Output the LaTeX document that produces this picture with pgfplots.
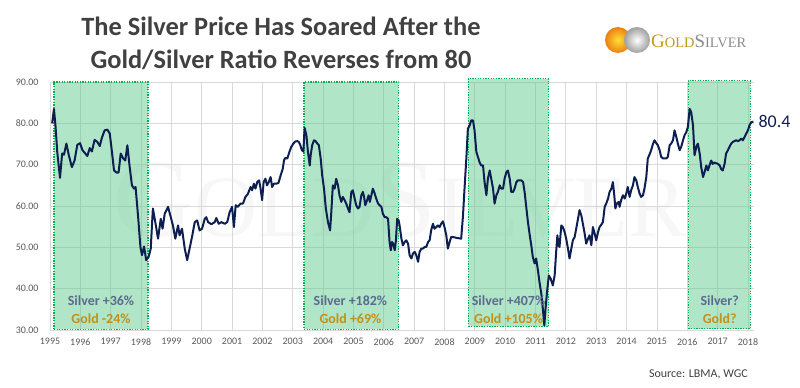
\documentclass[border=0pt]{standalone}
\usepackage{pgfplots}
\pgfplotsset{compat=1.18}
\usepackage{fontspec}
\setmainfont{Carlito}
\newfontfamily\logofont{Liberation Serif}
\definecolor{navy}{HTML}{0D1E50}
\definecolor{gridc}{HTML}{D9D9D9}
\definecolor{boxfill}{HTML}{64CB8F}
\definecolor{boxedge}{HTML}{00B050}
\definecolor{silverc}{HTML}{5B6B8F}
\definecolor{goldc}{HTML}{C39019}
\definecolor{titlec}{HTML}{404040}
\definecolor{tickc}{HTML}{595959}
\definecolor{logogold}{HTML}{C9961C}
\definecolor{logogray}{HTML}{8C8C8C}
\begin{document}
\begin{tikzpicture}[x=1bp,y=1bp]
\useasboundingbox (0,0) rectangle (800,387);
% title
\node[anchor=base, font=\bfseries\fontsize{26.5}{28}\selectfont, text=titlec, inner sep=0] at (281,352) {The Silver Price Has Soared After the};
\node[anchor=base, font=\bfseries\fontsize{26.5}{28}\selectfont, text=titlec, inner sep=0] at (281,319) {Gold/Silver Ratio Reverses from 80};
% logo
\shade[inner color=yellow!70!orange!80, outer color=orange!70!brown] (618,347) circle (13);
\shade[inner color=white, outer color=gray!75] (637,347) circle (13);
\node[anchor=base west, inner sep=0, font=\logofont] at (651,340) {\textcolor{logogold}{\fontsize{19}{19}\selectfont G\fontsize{14.5}{14.5}\selectfont OLD}\textcolor{logogray}{\fontsize{19}{19}\selectfont S\fontsize{14.5}{14.5}\selectfont ILVER}};
% watermark
\node[inner sep=0, font=\logofont, text=black!6, opacity=0.5] at (400,187) {\fontsize{112}{112}\selectfont G\fontsize{88}{88}\selectfont OLD\fontsize{112}{112}\selectfont S\fontsize{88}{88}\selectfont ILVER};
% source
\node[anchor=base east, inner sep=0, font=\fontsize{12}{14}\selectfont, text=titlec] at (748,10) {Source: LBMA, WGC};
\begin{axis}[
  at={(50bp,57bp)}, anchor=south west,
  scale only axis, width=704bp, height=248bp,
  xmin=1995, xmax=2018.2, ymin=30, ymax=90,
  axis line style={draw=none},
  major tick length=0pt,
  grid=major, grid style={color=gridc, line width=0.8bp},
  xtick={1995,1996,...,2018},
  xticklabels={1995,1996,1997,1998,1999,2000,2001,2002,2003,2004,2005,2006,2007,2008,2009,2010,2011,2012,2013,2014,2015,2016,2017,2018},
  ytick={30,40,50,60,70,80,90},
  yticklabels={30.00,40.00,50.00,60.00,70.00,80.00,90.00},
  tick label style={font=\fontsize{10}{12}\selectfont, text=tickc},
  xticklabel style={yshift=-5bp},
  yticklabel style={anchor=east, xshift=-8bp},
  clip=false,
]
% highlight boxes
\addplot[draw=boxedge, line width=1.3bp, dash pattern=on 1.3bp off 1.3bp, fill=boxfill, fill opacity=0.5] coordinates {(1995.13,30.2) (1998.23,30.2) (1998.23,90) (1995.13,90) (1995.13,30.2)};
\addplot[draw=boxedge, line width=1.3bp, dash pattern=on 1.3bp off 1.3bp, fill=boxfill, fill opacity=0.5] coordinates {(2003.37,30.2) (2006.49,30.2) (2006.49,90) (2003.37,90) (2003.37,30.2)};
\addplot[draw=boxedge, line width=1.3bp, dash pattern=on 1.3bp off 1.3bp, fill=boxfill, fill opacity=0.5] coordinates {(2008.79,30.8) (2011.43,30.8) (2011.43,90.8) (2008.79,90.8) (2008.79,30.8)};
\addplot[draw=boxedge, line width=1.3bp, dash pattern=on 1.3bp off 1.3bp, fill=boxfill, fill opacity=0.5] coordinates {(2016.04,30.3) (2018.08,30.3) (2018.08,90.3) (2016.04,90.3) (2016.04,30.3)};
% ratio line
\addplot[navy, line width=2bp, line join=round] coordinates {
(1995.07,80.0) (1995.13,83.5) (1995.18,79.5) (1995.24,73.0) (1995.33,66.8) (1995.40,72.7) (1995.46,72.4) (1995.54,75.1) (1995.62,72.3) (1995.72,69.4) (1995.81,71.0) (1995.90,74.8) (1995.99,75.2)
(1996.07,73.5) (1996.14,72.9) (1996.23,72.1) (1996.31,74.0) (1996.38,73.2) (1996.47,76.0) (1996.56,75.5) (1996.64,74.5) (1996.71,76.5) (1996.80,78.3) (1996.89,78.5) (1996.97,77.5)
(1997.04,73.2) (1997.11,68.6) (1997.19,68.1) (1997.26,68.1) (1997.33,72.7) (1997.41,71.5) (1997.48,71.0) (1997.55,74.7) (1997.62,69.8) (1997.70,65.0) (1997.77,64.2) (1997.82,64.6) (1997.90,57.7) (1997.98,50.1)
(1998.03,48.1) (1998.10,50.2) (1998.17,46.9) (1998.25,47.7) (1998.32,49.7) (1998.39,59.4) (1998.47,56.1) (1998.56,52.1) (1998.65,56.9) (1998.71,54.5) (1998.78,58.1) (1998.89,59.8) (1998.98,57.3)
(1999.05,55.3) (1999.13,52.1) (1999.22,55.3) (1999.27,52.9) (1999.35,54.5) (1999.44,49.7) (1999.52,46.9) (1999.60,49.7) (1999.69,52.9) (1999.77,56.1) (1999.85,56.5) (1999.93,54.1)
(2000.01,54.5) (2000.10,56.9) (2000.15,57.3) (2000.21,56.1) (2000.32,55.6) (2000.43,56.1) (2000.48,57.1) (2000.56,55.7) (2000.65,56.1) (2000.76,55.7) (2000.84,56.1) (2000.92,58.5)
(2001.00,59.8) (2001.06,54.9) (2001.12,60.2) (2001.19,59.8) (2001.28,60.6) (2001.36,60.6) (2001.44,62.2) (2001.52,62.9) (2001.61,64.6) (2001.66,63.8) (2001.72,65.4) (2001.77,64.2) (2001.83,65.8) (2001.89,66.2) (2001.94,64.2) (2001.99,61.4)
(2002.04,65.8) (2002.10,66.6) (2002.15,65.0) (2002.21,65.8) (2002.27,67.0) (2002.32,64.6) (2002.38,65.4) (2002.46,65.4) (2002.53,65.6) (2002.60,67.4) (2002.67,69.0) (2002.71,71.0) (2002.75,71.6) (2002.82,71.5) (2002.89,73.1) (2002.95,74.3)
(2003.02,75.1) (2003.08,75.6) (2003.15,75.7) (2003.20,75.5) (2003.25,74.7) (2003.30,73.5) (2003.35,73.2) (2003.39,78.9) (2003.45,77.1) (2003.50,73.1) (2003.56,69.8) (2003.59,72.3) (2003.64,74.7) (2003.70,75.9) (2003.75,75.7) (2003.81,75.1) (2003.86,74.7) (2003.92,71.5) (2003.97,67.4)
(2004.03,64.2) (2004.09,59.4) (2004.16,56.1) (2004.23,54.1) (2004.27,58.5) (2004.32,65.0) (2004.38,64.2) (2004.43,66.6) (2004.49,65.0) (2004.54,62.6) (2004.60,61.0) (2004.65,62.2) (2004.71,61.4) (2004.76,60.6) (2004.82,59.4) (2004.87,58.5) (2004.93,63.4) (2004.98,63.8)
(2005.04,61.8) (2005.09,60.2) (2005.15,59.4) (2005.20,59.8) (2005.26,62.6) (2005.31,63.4) (2005.35,62.2) (2005.39,60.2) (2005.45,61.4) (2005.50,62.6) (2005.54,61.0) (2005.59,62.6) (2005.64,64.2) (2005.70,63.0) (2005.75,61.8) (2005.81,60.6) (2005.86,60.2) (2005.92,59.8) (2005.97,58.1)
(2006.03,57.3) (2006.08,57.3) (2006.14,56.9) (2006.19,51.3) (2006.23,49.3) (2006.27,51.3) (2006.31,50.9) (2006.36,49.3) (2006.40,51.7) (2006.44,56.9) (2006.49,56.5) (2006.52,55.3) (2006.58,52.1) (2006.63,50.5) (2006.69,51.3) (2006.74,51.7) (2006.80,50.9) (2006.85,48.1) (2006.91,47.3) (2006.96,48.5)
(2007.02,48.9) (2007.07,48.1) (2007.13,46.5) (2007.18,48.9) (2007.24,49.7) (2007.29,49.7) (2007.35,50.1) (2007.40,50.1) (2007.46,51.3) (2007.51,51.7) (2007.56,54.1) (2007.62,55.7) (2007.67,54.5) (2007.73,54.9) (2007.78,55.3) (2007.84,54.9) (2007.89,55.7) (2007.95,56.3)
(2008.00,54.9) (2008.06,52.9) (2008.11,49.7) (2008.17,51.3) (2008.22,52.5) (2008.28,52.5) (2008.39,52.3) (2008.55,52.1) (2008.61,57.7) (2008.66,64.2) (2008.72,71.5) (2008.77,78.7) (2008.83,79.5) (2008.88,80.7) (2008.94,80.7) (2008.99,78.3)
(2009.05,73.1) (2009.10,71.9) (2009.16,70.5) (2009.21,69.8) (2009.27,69.8) (2009.32,65.8) (2009.38,62.6) (2009.43,66.6) (2009.49,68.6) (2009.54,66.6) (2009.60,64.2) (2009.65,60.6) (2009.71,62.6) (2009.76,63.4) (2009.82,65.0) (2009.87,64.2) (2009.93,64.2) (2009.98,66.6)
(2010.04,68.2) (2010.09,68.6) (2010.15,66.6) (2010.20,63.4) (2010.26,63.4) (2010.31,64.2) (2010.37,65.8) (2010.42,66.2) (2010.53,66.2) (2010.59,65.8) (2010.64,63.4) (2010.70,59.4) (2010.75,56.1) (2010.81,52.9) (2010.86,50.5) (2010.91,47.7) (2010.97,46.1)
(2011.02,47.3) (2011.08,44.4) (2011.13,41.6) (2011.19,38.8) (2011.24,35.2) (2011.29,31.1) (2011.33,35.2) (2011.39,40.0) (2011.44,43.2) (2011.50,42.4) (2011.57,40.8) (2011.63,43.2) (2011.68,48.9) (2011.72,52.9) (2011.76,50.5) (2011.79,50.1) (2011.85,55.3) (2011.90,54.9) (2011.96,53.7)
(2012.01,52.1) (2012.07,49.7) (2012.12,47.3) (2012.18,49.7) (2012.23,51.7) (2012.29,52.5) (2012.34,54.5) (2012.40,56.9) (2012.45,59.0) (2012.51,57.7) (2012.56,55.7) (2012.62,53.3) (2012.67,50.9) (2012.73,52.1) (2012.78,52.9) (2012.84,50.5) (2012.89,54.9) (2012.95,53.3)
(2013.00,51.7) (2013.06,53.7) (2013.11,54.9) (2013.17,55.5) (2013.22,56.1) (2013.28,59.8) (2013.33,60.6) (2013.39,61.8) (2013.44,63.4) (2013.50,64.2) (2013.55,65.8) (2013.60,62.2) (2013.63,59.4) (2013.68,60.6) (2013.74,61.0) (2013.77,59.8) (2013.82,61.4) (2013.88,62.6) (2013.94,61.8) (2013.99,63.0)
(2014.04,64.6) (2014.10,62.2) (2014.15,63.8) (2014.21,65.0) (2014.26,67.0) (2014.32,66.2) (2014.37,64.6) (2014.43,63.0) (2014.48,62.2) (2014.54,62.6) (2014.59,64.2) (2014.65,67.0) (2014.70,71.5) (2014.76,72.5) (2014.81,73.5) (2014.87,75.0) (2014.92,75.9) (2014.98,75.2)
(2015.03,74.7) (2015.09,73.5) (2015.14,71.9) (2015.20,71.5) (2015.25,71.5) (2015.31,71.5) (2015.36,71.9) (2015.42,74.7) (2015.47,75.1) (2015.53,75.9) (2015.58,78.3) (2015.64,76.7) (2015.69,75.1) (2015.75,73.5) (2015.80,74.3) (2015.86,75.9) (2015.91,77.1) (2015.97,77.9)
(2016.02,79.1) (2016.08,83.5) (2016.13,82.7) (2016.19,79.5) (2016.24,72.3) (2016.30,74.3) (2016.35,75.1) (2016.41,72.7) (2016.46,69.4) (2016.52,67.0) (2016.57,68.2) (2016.63,69.8) (2016.68,68.6) (2016.74,70.0) (2016.79,71.0) (2016.84,70.2) (2016.90,70.5)
(2017.01,70.2) (2017.07,69.8) (2017.12,68.9) (2017.17,68.6) (2017.23,70.2) (2017.28,72.7) (2017.34,73.5) (2017.39,74.3) (2017.45,75.1) (2017.50,75.5) (2017.61,75.9) (2017.67,75.7) (2017.72,75.9) (2017.78,76.3) (2017.83,75.9) (2017.89,76.7) (2017.94,77.5)
(2018.00,78.3) (2018.05,79.5) (2018.11,80.3) (2018.18,80.4)
};
% box annotations
\node[font=\bfseries\fontsize{14}{14}\selectfont, text=silverc] at (axis cs:1996.68,37.0) {Silver +36\%};
\node[font=\bfseries\fontsize{14}{14}\selectfont, text=goldc] at (axis cs:1996.68,32.7) {Gold -24\%};
\node[font=\bfseries\fontsize{14}{14}\selectfont, text=silverc] at (axis cs:2004.90,37.0) {Silver +182\%};
\node[font=\bfseries\fontsize{14}{14}\selectfont, text=goldc] at (axis cs:2004.90,32.7) {Gold +69\%};
\node[font=\bfseries\fontsize{14}{14}\selectfont, text=silverc] at (axis cs:2010.11,37.0) {Silver +407\%};
\node[font=\bfseries\fontsize{14}{14}\selectfont, text=goldc] at (axis cs:2010.11,32.7) {Gold +105\%};
\node[font=\bfseries\fontsize{14}{14}\selectfont, text=silverc] at (axis cs:2017.07,37.0) {Silver?};
\node[font=\bfseries\fontsize{14}{14}\selectfont, text=goldc] at (axis cs:2017.07,32.7) {Gold?};
\node[anchor=west, inner sep=0, xshift=5bp, font=\fontsize{18}{18}\selectfont, text=navy] at (axis cs:2018.18,80.4) {80.4};
\end{axis}
\end{tikzpicture}
\end{document}
